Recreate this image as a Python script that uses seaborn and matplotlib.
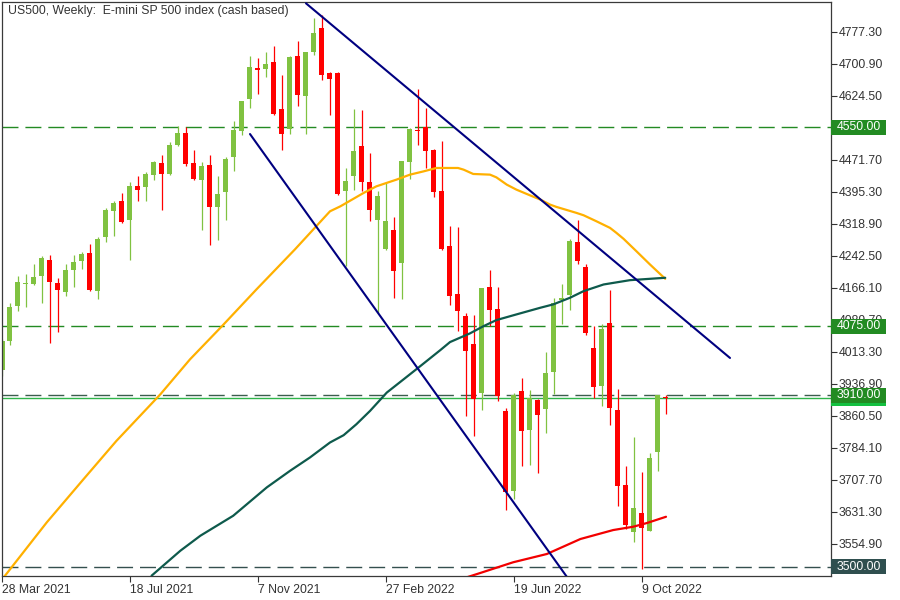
import matplotlib
matplotlib.use("Agg")
import matplotlib.pyplot as plt
import matplotlib.transforms as mtransforms
from matplotlib.patches import Rectangle
import numpy as np
import pandas as pd
import seaborn as sns

sns.set_style("white")
plt.rcParams["font.family"] = ["Liberation Sans", "DejaVu Sans"]
plt.rcParams["lines.scale_dashes"] = False

title = "US500, Weekly:  E-mini SP 500 index (cash based)"
date_ticks = [0, 16, 32, 48, 64, 80]
date_labels = ["28 Mar 2021", "18 Jul 2021", "7 Nov 2021", "27 Feb 2022", "19 Jun 2022", "9 Oct 2022"]

opens = [3970.2, 4039.3, 4122.7, 4175.6, 4176.1, 4194.2, 4234.0, 4176.8, 4156.1, 4208.5,
         4231.6, 4250.0, 4158.4, 4287.1, 4349.1, 4374.6, 4327.6, 4410.3, 4406.3, 4434.9,
         4464.4, 4437.3, 4508.0, 4535.9, 4464.4, 4423.0, 4460.4, 4358.6, 4394.4, 4477.8,
         4539.7, 4616.9, 4692.2, 4689.1, 4706.5, 4593.8, 4544.5, 4720.1, 4624.8, 4730.4,
         4786.1, 4680.3, 4680.3, 4396.7, 4432.5, 4505.6, 4419.9, 4329.3, 4259.5, 4305.5,
         4226.1, 4465.8, 4543.8, 4549.3, 4496.1, 4396.7, 4267.4, 4150.6, 4098.9, 4031.5,
         3916.4, 4169.0, 4114.9, 3872.5, 3681.8, 3920.2, 3827.2, 3898.0, 3876.6, 3965.4,
         4136.3, 4148.2, 4276.2, 4216.6, 4023.6, 3932.1, 4083.1, 3874.2, 3695.4, 3582.7,
         3628.7, 3586.5, 3774.8, 3905.9]
highs = [4045.0, 4130.8, 4194.2, 4198.3, 4222.1, 4241.9, 4245.9, 4190.4, 4222.1, 4245.9,
         4251.4, 4271.4, 4288.1, 4357.2, 4374.6, 4392.9, 4418.2, 4432.5, 4442.0, 4469.9,
         4484.2, 4514.5, 4553.3, 4549.3, 4496.1, 4465.8, 4484.2, 4432.5, 4477.8, 4563.6,
         4612.0, 4720.1, 4714.6, 4730.4, 4744.0, 4674.8, 4720.1, 4756.6, 4729.5, 4810.0,
         4817.8, 4681.0, 4681.5, 4452.5, 4593.8, 4591.4, 4488.2, 4398.4, 4417.5, 4335.7,
         4469.9, 4547.8, 4640.8, 4595.5, 4498.5, 4517.6, 4313.3, 4311.0, 4107.0, 4100.5,
         4165.5, 4208.5, 4169.0, 3880.6, 3916.4, 3950.4, 3922.5, 3902.0, 4014.0, 4142.7,
         4174.4, 4284.1, 4329.3, 4222.1, 4075.0, 4079.1, 4160.8, 3924.2, 3741.4, 3810.5,
         3727.1, 3771.0, 3910.6, 3910.6]
lows = [3955.0, 4029.8, 4110.8, 4121.3, 4172.0, 4130.8, 4033.8, 4060.8, 4146.5, 4169.0,
        4211.8, 4158.4, 4140.3, 4275.2, 4289.5, 4320.0, 4232.3, 4372.9, 4372.9, 4423.0,
        4351.5, 4436.0, 4504.0, 4458.0, 4424.6, 4305.5, 4269.7, 4280.0, 4327.6, 4444.4,
        4531.8, 4595.5, 4629.6, 4670.8, 4579.5, 4494.4, 4532.6, 4601.0, 4532.6, 4722.5,
        4662.9, 4579.5, 4389.0, 4218.0, 4400.8, 4396.7, 4325.2, 4107.0, 4257.8, 4142.7,
        4140.3, 4426.3, 4508.0, 4452.5, 4382.4, 4257.8, 4125.1, 4063.1, 3860.6, 3812.2,
        3874.9, 4075.0, 3896.3, 3636.6, 3662.1, 3741.4, 3743.8, 3723.3, 3821.0, 3912.3,
        4080.8, 4113.2, 4222.1, 4053.6, 3904.4, 3884.4, 3839.1, 3646.1, 3590.6, 3560.4,
        3495.3, 3585.0, 3729.5, 3864.6]
closes = [4039.3, 4121.3, 4180.8, 4177.0, 4191.1, 4238.0, 4179.9, 4160.8, 4207.8, 4229.2,
          4248.3, 4160.8, 4283.3, 4353.1, 4369.1, 4322.9, 4410.3, 4400.8, 4438.9, 4467.6,
          4437.3, 4508.0, 4535.9, 4462.7, 4426.3, 4458.0, 4358.6, 4391.3, 4474.7, 4543.8,
          4611.2, 4693.2, 4686.8, 4701.0, 4581.9, 4532.6, 4717.7, 4627.2, 4728.9, 4774.2,
          4674.8, 4665.3, 4391.3, 4422.2, 4493.7, 4418.2, 4353.1, 4384.8, 4325.2, 4206.1,
          4468.2, 4545.4, 4539.7, 4492.0, 4394.4, 4259.5, 4146.5, 4110.8, 4015.5, 3902.0,
          4164.9, 4113.2, 3908.2, 3678.0, 3910.6, 3824.9, 3904.4, 3863.0, 3962.3, 4130.8,
          4142.7, 4279.3, 4230.0, 4059.3, 3929.7, 4067.2, 3879.0, 3693.8, 3600.8, 3640.7,
          3592.3, 3759.8, 3910.6, 3902.6]

# moving averages (week position, price)
ma_orange_weeks = [0.0, 5.6, 10.2, 14.3, 19.8, 23.5, 27.5, 31.8, 36.6, 41.0, 42.3, 45.2,
                   46.8, 49.3, 51.0, 52.7, 54.3, 57.0, 57.7, 58.9, 61.0, 61.8, 63.1, 64.3,
                   66.0, 67.3, 68.5, 69.3, 71.8, 72.7, 74.3, 76.0, 76.8, 77.7, 79.3, 81.0, 82.9]
ma_orange_values = [3470.0, 3606.6, 3709.8, 3801.0, 3912.3, 3995.7, 4075.0, 4162.5, 4257.8,
                    4349.1, 4361.0, 4392.9, 4408.7, 4424.6, 4436.6, 4444.4, 4452.5, 4452.5,
                    4448.5, 4438.2, 4436.6, 4430.1, 4412.7, 4400.8, 4387.2, 4377.0, 4365.1,
                    4359.6, 4345.3, 4339.6, 4325.3, 4309.5, 4297.6, 4283.3, 4253.8, 4222.1, 4188.0]
ma_green_weeks = [18.7, 22.3, 24.8, 28.9, 33.1, 36.0, 38.5, 41.0, 42.7, 44.3, 46.0, 48.1,
                  50.2, 52.3, 54.8, 56.0, 58.5, 60.2, 61.8, 64.3, 67.3, 68.9, 71.0, 72.7,
                  75.2, 78.5, 82.9]
ma_green_values = [3479.3, 3538.9, 3574.7, 3622.3, 3690.0, 3729.5, 3761.5, 3797.2, 3814.6,
                   3840.8, 3872.5, 3916.4, 3948.0, 3979.7, 4017.9, 4036.9, 4057.7, 4075.0,
                   4089.4, 4102.9, 4118.9, 4126.8, 4142.7, 4158.5, 4174.4, 4184.7, 4190.4]
ma_red_weeks = [58.2, 59.8, 63.9, 68.1, 72.3, 76.4, 78.9, 80.6, 83.0]
ma_red_values = [3476.0, 3485.8, 3511.3, 3531.0, 3566.8, 3588.2, 3596.1, 3604.9, 3619.9]

upper_trend_weeks = [38, 91]
upper_trend_prices = [4845.5, 3999.0]
lower_trend_weeks = [31, 71]
lower_trend_prices = [4533.5, 3466.0]

price_ticks = [4777.30, 4700.90, 4624.50, 4548.10, 4471.70, 4395.30, 4318.90, 4242.50,
               4166.10, 4089.70, 4013.30, 3936.90, 3860.50, 3784.10, 3707.70, 3631.30, 3554.90]

levels = [4550.00, 4075.00, 3910.00, 3500.00]
level_line_colors = ["#238a23", "#238a23", "#3b5e4d", "#34504f"]
level_box_colors = ["#228b22", "#228b22", "#228b22", "#2f4f4f"]

BULL = "#80c241"
BEAR = "#ff0000"
FS = 8.8

df = pd.DataFrame({"week": np.arange(len(opens)), "open": opens, "high": highs,
                   "low": lows, "close": closes})
df["color"] = np.where(df["close"] >= df["open"], BULL, BEAR)

fig = plt.figure(figsize=(9, 6), dpi=100)
ax = fig.add_axes([2 / 900, 24 / 600, 829 / 900, 574 / 600])

# horizontal levels
for lv, lc in zip(levels, level_line_colors):
    ax.axhline(lv, color=lc, lw=1.0, dashes=(11.5, 5.0), zorder=1)
ax.axhline(closes[-1], color="#2fb44a", lw=1.0, zorder=1.2)

# candles
ax.vlines(df["week"], df["low"], df["high"], colors=df["color"], lw=0.9, zorder=2)
body_low = np.minimum(df["open"], df["close"])
body_h = (df["close"] - df["open"]).abs()
min_h = 2.4
adj_low = np.where(body_h < min_h, body_low - (min_h - body_h) / 2, body_low)
adj_h = np.maximum(body_h, min_h)
ax.bar(df["week"], adj_h, bottom=adj_low, width=0.625, color=df["color"], lw=0, zorder=2.2)

# moving averages
sns.lineplot(x=ma_orange_weeks, y=ma_orange_values, color="#ffb000", lw=1.6, ax=ax, zorder=3)
sns.lineplot(x=ma_green_weeks, y=ma_green_values, color="#0e5a4c", lw=1.6, ax=ax, zorder=3)
sns.lineplot(x=ma_red_weeks, y=ma_red_values, color="#f20000", lw=1.6, ax=ax, zorder=3)

# trend lines
sns.lineplot(x=upper_trend_weeks, y=upper_trend_prices, color="#000080", lw=1.5, ax=ax, zorder=4)
sns.lineplot(x=lower_trend_weeks, y=lower_trend_prices, color="#000080", lw=1.5, ax=ax, zorder=4)

ax.set_xlim(0, 103.625)
ax.set_ylim(3478.5, 4848.7)
ax.set_xlabel("")
ax.set_ylabel("")

ax.yaxis.tick_right()
ax.set_yticks(price_ticks)
ax.set_yticklabels([f"{v:.2f}" for v in price_ticks])
ax.tick_params(axis="y", which="both", direction="out", length=4, width=0.8, color="#333333",
               labelsize=FS, labelcolor="#333333", pad=1.5, right=True, left=False)
ax.set_xticks(date_ticks)
ax.set_xticklabels(date_labels, ha="left")
ax.tick_params(axis="x", direction="out", length=4, width=0.8, color="#333333",
               labelsize=FS, labelcolor="#333333", pad=1.5, bottom=True)
for sp in ax.spines.values():
    sp.set_color("#3a3a3a")
    sp.set_linewidth(0.9)

# price boxes on the right
trans = mtransforms.blended_transform_factory(ax.transAxes, ax.transData)
box_x0 = 831 / 829 - 2 / 829
box_w = 55 / 829
box_h = 15 * 2.388

def price_box(val, color, z):
    ax.add_patch(Rectangle((box_x0, val - box_h / 2), box_w, box_h, transform=trans,
                           facecolor=color, edgecolor="none", clip_on=False, zorder=z))
    ax.text(box_x0 + box_w / 2, val, f"{val:.2f}", transform=trans, ha="center", va="center",
            fontsize=FS, color="white", clip_on=False, zorder=z + 0.5)

price_box(closes[-1], "#13c040", 9)
for lv, bc in zip(levels, level_box_colors):
    price_box(lv, bc, 10)

fig.text(8 / 900, 1 - 11 / 600, title, ha="left", va="center", fontsize=FS, color="#333333")

fig.savefig("out.png", dpi=100)
